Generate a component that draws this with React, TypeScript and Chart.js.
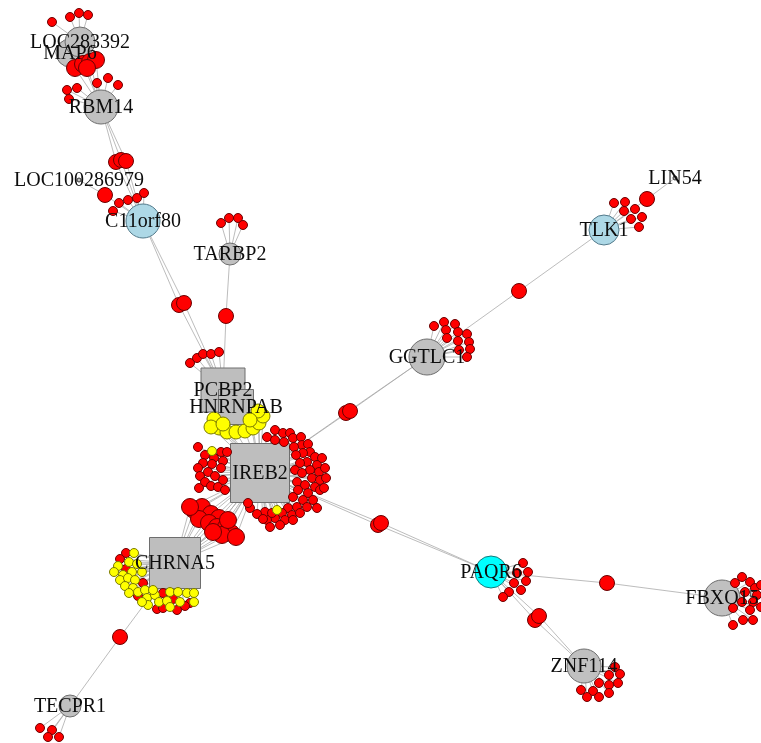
import React, { useEffect, useRef } from "react";
import { Chart, registerables } from "chart.js";

Chart.register(...registerables);

type P = [number, number];

// ---------- gene nodes (layout coordinates) ----------
const geneNames = [
  "IREB2", "CHRNA5", "PCBP2", "HNRNPAB", "GGTLC1", "TLK1", "PAQR6", "FBXO15",
  "ZNF114", "TECPR1", "TARBP2", "C11orf80", "LOC100286979", "RBM14", "MAP6",
  "LOC283392", "LIN54",
];
const geneX = [260, 175, 223, 236, 427, 604, 491, 722, 584, 70, 230, 143, 79, 101, 70, 80, 675];
const geneY = [473, 563, 390, 407, 357, 230, 572, 598, 666, 706, 254, 221, 180, 107, 53, 42, 178];
const geneKind = [
  "hub", "hub", "hub", "hub", "grey", "blue", "cyan", "grey",
  "grey", "grey", "grey", "blue", "tiny", "grey", "grey", "grey", "tiny",
];
// relative node weight (drawn size)
const geneWeight = [59, 51, 44, 35, 18, 15, 16, 18, 17, 11, 11, 17, 2, 17, 14, 15, 2];

// ---------- connecting SNP nodes (bridge two genes) ----------
const brIrebGgtlc: P[] = [[346, 413], [350, 411]];
const brGgtlcTlk: P[] = [[519, 291]];
const brTlkLin: P[] = [[647, 199]];
const brIrebPaqr: P[] = [[378, 525], [381, 523]];
const brPaqrFbxo: P[] = [[607, 583]];
const brPaqrZnf: P[] = [[535, 620], [539, 616]];
const brChrnaTecpr: P[] = [[120, 637]];
const brPcbpTarbp: P[] = [[226, 316]];
const brPcbpC11: P[] = [[179, 305], [184, 303]];
const brC11Loc: P[] = [[105, 195]];
const brC11Rbm: P[] = [[116, 162], [121, 160], [126, 161]];
const brRbmMap: P[] = [[75, 68], [83, 64], [90, 62], [96, 60], [87, 68]];
const brIrebChrna: P[] = [
  [194, 510], [202, 507], [211, 514], [219, 518], [199, 519], [209, 523], [217, 527],
  [226, 527], [231, 533], [222, 535], [236, 537], [213, 532], [228, 520], [190, 507],
];
const brIrebHnrnp: P[] = [
  [214, 419], [219, 428], [227, 432], [236, 432], [245, 431], [253, 428],
  [259, 423], [263, 416], [258, 411], [211, 427], [223, 424], [250, 420],
];

// ---------- leaf SNP nodes ----------
const leafLoc283392: P[] = [[52, 22], [70, 17], [79, 13], [88, 15]];
const leafRbm14: P[] = [[67, 90], [77, 88], [97, 83], [108, 78], [118, 85], [69, 99]];
const leafC11orf80: P[] = [[113, 211], [119, 203], [128, 200], [137, 198], [144, 193]];
const leafTarbp2: P[] = [[221, 223], [229, 218], [238, 218], [243, 225]];
const leafPcbp2: P[] = [[190, 363], [197, 358], [203, 354], [211, 354], [219, 352]];
const leafGgtlc1: P[] = [
  [434, 326], [444, 322], [455, 324], [446, 330], [458, 332], [467, 334],
  [447, 338], [458, 341], [469, 342], [459, 350], [470, 349], [467, 357],
];
const leafTlk1: P[] = [[614, 203], [625, 202], [624, 211], [635, 209], [631, 219], [642, 217], [639, 227]];
const leafPaqr6: P[] = [[523, 563], [528, 572], [517, 573], [526, 581], [514, 583], [521, 590], [509, 592], [503, 597]];
const leafFbxo15: P[] = [
  [742, 577], [750, 582], [735, 583], [755, 588], [745, 592], [757, 595], [753, 602],
  [742, 602], [733, 608], [750, 610], [743, 620], [753, 620], [733, 625], [761, 585], [761, 607],
];
const leafZnf114: P[] = [
  [615, 667], [609, 675], [620, 674], [599, 683], [609, 685], [618, 683],
  [581, 690], [593, 691], [609, 693], [587, 697], [599, 697],
];
const leafTecpr1: P[] = [[40, 728], [52, 730], [48, 737], [59, 737]];
const leafChrna5Red: P[] = [
  [126, 553], [120, 559], [126, 569], [143, 583], [138, 596], [163, 593],
  [173, 599], [190, 603], [157, 609], [163, 608], [177, 610], [185, 606],
];
const leafChrna5Yellow: P[] = [
  [134, 553], [129, 562], [118, 566], [137, 564], [123, 575], [132, 572], [142, 572],
  [120, 580], [128, 578], [135, 580], [125, 586], [133, 588], [138, 592], [145, 590],
  [129, 593], [147, 598], [155, 595], [170, 592], [178, 592], [187, 593], [194, 593],
  [153, 590], [159, 602], [167, 601], [180, 602], [194, 602], [148, 605], [170, 607],
  [142, 602], [114, 572],
];
const leafIreb2Red: P[] = [
  [205, 455], [214, 458], [221, 452], [227, 452], [203, 463], [212, 464], [223, 461],
  [198, 468], [208, 472], [221, 468], [200, 476], [215, 476], [223, 480], [205, 482],
  [211, 486], [218, 487], [225, 490], [198, 447], [199, 488],
  [275, 430], [283, 433], [290, 433], [267, 437], [275, 440], [284, 442], [293, 438],
  [301, 437], [302, 445], [308, 444], [294, 447], [310, 452], [303, 453], [315, 457],
  [296, 455], [307, 462], [317, 465], [300, 463], [295, 470], [310, 470], [319, 472],
  [302, 473], [312, 478], [320, 480], [297, 482], [305, 485], [315, 487], [320, 490],
  [298, 490], [308, 493], [293, 497], [303, 500], [313, 500], [297, 507], [307, 507],
  [288, 508], [282, 513], [292, 515], [300, 513], [275, 518], [285, 520], [293, 520],
  [267, 520], [265, 512], [272, 513], [250, 508], [257, 514], [263, 519], [248, 503],
  [325, 468], [326, 478], [324, 488], [322, 458], [317, 508], [280, 525], [270, 527],
];
const leafIreb2Yellow: P[] = [[212, 451], [277, 510]];

// ---------- styles ----------
const EDGE_COLOR = "rgba(165,165,165,0.75)";
const FILL: Record<string, string> = {
  red: "#ff0000", yellow: "#ffff00", grey: "#c0c0c0", hub: "#bebebe",
  blue: "#add8e6", cyan: "#00ffff", tiny: "#c0c0c0",
};
const BORDER: Record<string, string> = {
  red: "#6b0000", yellow: "#7a7a00", grey: "#6e6e6e", hub: "#6e6e6e",
  blue: "#52798a", cyan: "#137a7a", tiny: "#333333",
};
const R_SMALL = 4.5;
const R_MID = 7.5;
const R_BIG = 8.5;
const R_YEL = 7;

export default function App() {
  const ref = useRef<HTMLCanvasElement | null>(null);

  useEffect(() => {
    document.body.style.margin = "0";
    const canvas = ref.current;
    if (!canvas) return;

    const gi = (n: string) => geneNames.indexOf(n);
    const gpt = (n: string) => ({ x: geneX[gi(n)], y: geneY[gi(n)] });

    const edges: { x: number; y: number }[][] = [];
    const redSmall: P[] = [];
    const redMid: P[] = [];
    const redBig: P[] = [];
    const yelSmall: P[] = [];
    const yelMid: P[] = [];

    const leafTable: [string, P[], P[]][] = [
      ["LOC283392", leafLoc283392, redSmall],
      ["RBM14", leafRbm14, redSmall],
      ["C11orf80", leafC11orf80, redSmall],
      ["TARBP2", leafTarbp2, redSmall],
      ["PCBP2", leafPcbp2, redSmall],
      ["GGTLC1", leafGgtlc1, redSmall],
      ["TLK1", leafTlk1, redSmall],
      ["PAQR6", leafPaqr6, redSmall],
      ["FBXO15", leafFbxo15, redSmall],
      ["ZNF114", leafZnf114, redSmall],
      ["TECPR1", leafTecpr1, redSmall],
      ["CHRNA5", leafChrna5Red, redSmall],
      ["CHRNA5", leafChrna5Yellow, yelSmall],
      ["IREB2", leafIreb2Red, redSmall],
      ["IREB2", leafIreb2Yellow, yelSmall],
    ];
    leafTable.forEach(([g, pts, bucket]) => {
      pts.forEach((p) => {
        edges.push([gpt(g), { x: p[0], y: p[1] }]);
        bucket.push(p);
      });
    });

    const bridgeTable: [string, string, P[], P[]][] = [
      ["IREB2", "GGTLC1", brIrebGgtlc, redMid],
      ["GGTLC1", "TLK1", brGgtlcTlk, redMid],
      ["TLK1", "LIN54", brTlkLin, redMid],
      ["IREB2", "PAQR6", brIrebPaqr, redMid],
      ["PAQR6", "FBXO15", brPaqrFbxo, redMid],
      ["PAQR6", "ZNF114", brPaqrZnf, redMid],
      ["CHRNA5", "TECPR1", brChrnaTecpr, redMid],
      ["PCBP2", "TARBP2", brPcbpTarbp, redMid],
      ["PCBP2", "C11orf80", brPcbpC11, redMid],
      ["C11orf80", "LOC100286979", brC11Loc, redMid],
      ["C11orf80", "RBM14", brC11Rbm, redMid],
      ["RBM14", "MAP6", brRbmMap, redBig],
      ["IREB2", "CHRNA5", brIrebChrna, redBig],
      ["IREB2", "HNRNPAB", brIrebHnrnp, yelMid],
    ];
    bridgeTable.forEach(([a, b, pts, bucket]) => {
      pts.forEach((p) => {
        edges.push([gpt(a), { x: p[0], y: p[1] }]);
        edges.push([{ x: p[0], y: p[1] }, gpt(b)]);
        bucket.push(p);
      });
    });
    brRbmMap.forEach((p) => edges.push([gpt("LOC283392"), { x: p[0], y: p[1] }]));

    const edgeSets = edges.map((e) => ({
      data: e,
      showLine: true,
      borderColor: EDGE_COLOR,
      borderWidth: 1,
      pointRadius: 0,
      order: 100,
    }));

    const ptSet = (pts: P[], kind: string, r: number, order: number) => ({
      data: pts.map((p) => ({ x: p[0], y: p[1] })),
      showLine: false,
      pointRadius: r,
      pointStyle: "circle",
      backgroundColor: FILL[kind],
      borderColor: BORDER[kind],
      pointBorderWidth: 1,
      order,
    });

    const geneSet = (kinds: string[], order: number) => {
      const idx = geneNames.map((_, i) => i).filter((i) => kinds.includes(geneKind[i]));
      return {
        data: idx.map((i) => ({ x: geneX[i], y: geneY[i] })),
        showLine: false,
        pointRadius: idx.map((i) => geneWeight[i]),
        pointStyle: "circle",
        backgroundColor: idx.map((i) => FILL[geneKind[i]]),
        borderColor: idx.map((i) => BORDER[geneKind[i]]),
        pointBorderWidth: 1,
        order,
      };
    };

    const hubOrder = ["PCBP2", "HNRNPAB", "IREB2", "CHRNA5"];
    const hubSets = hubOrder.map((n, k) => {
      const i = gi(n);
      return {
        data: [{ x: geneX[i], y: geneY[i] }],
        showLine: false,
        pointRadius: geneWeight[i] / Math.SQRT2,
        pointStyle: "rect",
        backgroundColor: FILL.hub,
        borderColor: BORDER.hub,
        pointBorderWidth: 1,
        order: 60 - k,
      };
    });

    const labelPlugin = {
      id: "nodeLabels",
      afterDatasetsDraw(chart: any) {
        const { ctx } = chart;
        const xs = chart.scales.x;
        const ys = chart.scales.y;
        ctx.save();
        ctx.font = "20px 'Liberation Serif', 'Times New Roman', serif";
        ctx.fillStyle = "#0d0d0d";
        ctx.textAlign = "center";
        ctx.textBaseline = "middle";
        geneNames.forEach((n, i) => {
          ctx.fillText(n, xs.getPixelForValue(geneX[i]), ys.getPixelForValue(geneY[i]) + 1);
        });
        ctx.restore();
      },
    };

    const chart = new Chart(canvas, {
      type: "scatter",
      data: {
        datasets: [
          ...edgeSets,
          ...hubSets,
          geneSet(["grey", "blue", "cyan", "tiny"], 40),
          ptSet(yelMid, "yellow", R_YEL, 30),
          ptSet(redBig, "red", R_BIG, 30),
          ptSet(redMid, "red", R_MID, 30),
          ptSet(yelSmall, "yellow", R_SMALL, 20),
          ptSet(redSmall, "red", R_SMALL, 21),
        ] as any,
      },
      options: {
        animation: false,
        responsive: false,
        events: [],
        layout: { padding: 0, autoPadding: false },
        plugins: { legend: { display: false }, tooltip: { enabled: false }, title: { display: false } },
        scales: {
          x: { type: "linear", min: 0, max: 761, display: false },
          y: { type: "linear", min: 0, max: 743, reverse: true, display: false },
        },
      },
      plugins: [labelPlugin],
    });
    return () => chart.destroy();
  }, []);

  return (
    <div style={{ position: "fixed", left: 0, top: 0, width: 761, height: 743, background: "#fff" }}>
      <canvas ref={ref} width={761} height={743} />
    </div>
  );
}
